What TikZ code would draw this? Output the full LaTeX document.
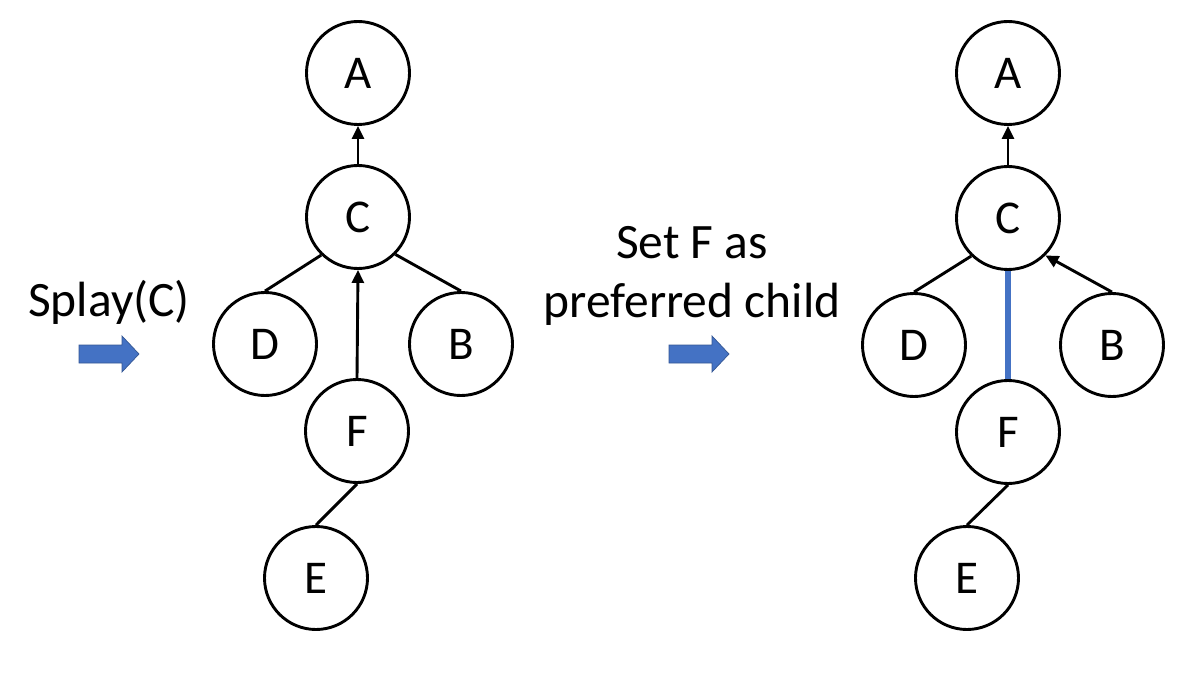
\documentclass[tikz,border=0pt]{standalone}
\usepackage{fontspec}
\setmainfont{Carlito}
\usetikzlibrary{arrows.meta}
\definecolor{accblue}{HTML}{4472C4}
\begin{document}
\begin{tikzpicture}[x=1pt,y=-1pt,
  vtx/.style={circle,draw=black,line width=2.9pt,minimum size=103pt,inner sep=0pt,font=\fontsize{47}{56}\selectfont},
  edge/.style={line width=2.9pt,black},
  arr/.style={edge,-{Triangle[length=13pt,width=12pt]}},
  pref/.style={line width=6pt,accblue},
  lbl/.style={font=\fontsize{49.5}{59}\selectfont,align=center,inner sep=0pt},
  blk/.style={fill=accblue,draw=accblue!75!black,line width=0.7pt}]
\useasboundingbox (0,0) rectangle (1203,674);
% left tree
\node[vtx] (lA) at (358,73) {A};
\node[vtx] (lC) at (358,217) {C};
\node[vtx] (lD) at (265,344) {D};
\node[vtx] (lB) at (461,344) {B};
\node[vtx] (lF) at (357,431) {F};
\node[vtx] (lE) at (316,578) {E};
\draw[arr] (lC.north) -- (lA.south);
\draw[arr] (lF.north) -- (lC.south);
\draw[edge] (lD.north) -- (lC.226);
\draw[edge] (lB.north) -- (lC.-45);
\draw[edge] (lF.south) -- (lE.north);
% right tree
\node[vtx] (rA) at (1008,73) {A};
\node[vtx] (rC) at (1008,218) {C};
\node[vtx] (rD) at (914,345) {D};
\node[vtx] (rB) at (1112,345) {B};
\node[vtx] (rF) at (1008,432) {F};
\node[vtx] (rE) at (967,578) {E};
\draw[arr] (rC.north) -- (rA.south);
\draw[arr] (rB.north) -- (rC.-45);
\draw[edge] (rD.north) -- (rC.226);
\draw[pref] (rC.south) -- (rF.north);
\draw[edge] (rF.south) -- (rE.north);
% labels
\node[lbl] (t1) at (109,302) {Splay(C)};
\node[lbl] (t2) at (692,276) {Set F as\\preferred child};
% block arrows
\draw[blk] (79,345) -- (122,345) -- (122,336) -- (139,354) -- (122,372) -- (122,363) -- (79,363) -- cycle;
\draw[blk] (669,345) -- (712,345) -- (712,336) -- (729,354) -- (712,372) -- (712,363) -- (669,363) -- cycle;
\end{tikzpicture}
\end{document}
